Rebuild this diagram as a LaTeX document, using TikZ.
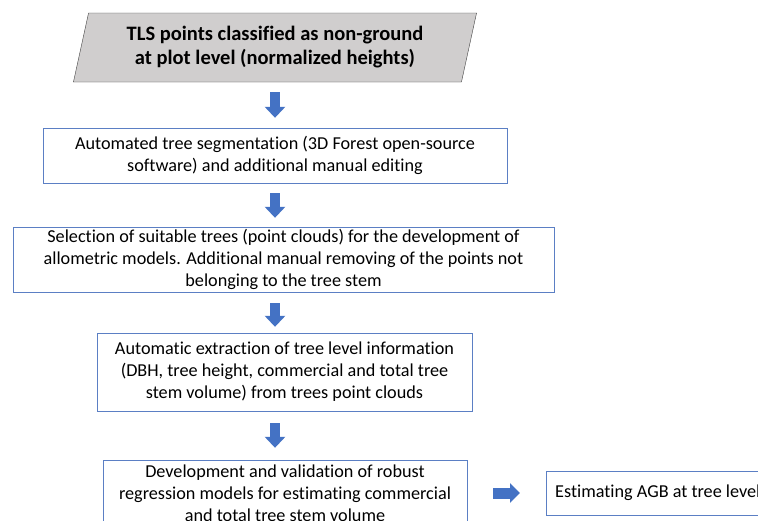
\documentclass[tikz,border=0pt]{standalone}
\usepackage{fontspec}
\setmainfont{Carlito}[Ligatures=NoCommon]
\usetikzlibrary{arrows.meta, shapes.geometric}
\definecolor{boxblue}{HTML}{5B7FC4}
\definecolor{arrowblue}{HTML}{4472C4}
\definecolor{titlegray}{HTML}{D0CECE}
\tikzstyle{titlebox} = [trapezium, trapezium left angle=74, trapezium right angle=106,
trapezium stretches=true,
minimum width=404, 
minimum height=69,
inner sep=0pt,
align=center, 
draw=black!75, 
fill=titlegray,
font=\fontsize{20.5}{24}\selectfont\bfseries]
\tikzstyle{box} = [rectangle, 
inner sep=0pt,
align=center, 
draw=boxblue,
font=\fontsize{18.2}{22}\selectfont]
\tikzstyle{blockarrow} = [-{Triangle[width=20pt, length=11pt]}, line width=10pt, arrowblue]

\begin{document}
\begin{tikzpicture}[x=1pt, y=-1pt]
				
				% Canvas (the last two boxes run past its edges)
				\useasboundingbox (0,0) rectangle (758,520);
				\clip (0,0) rectangle (758,520);
				\fill[white] (0,0) rectangle (758,520);
				
				\coordinate (axis) at (275,0);
				
				\node[titlebox] (points) at (275,47.5) {TLS points classified as non-ground \\ at plot level (normalized heights)};
				\node[box, minimum width=464, minimum height=55] (segment) at (275,155.5) {Automated tree segmentation (3D Forest open-source \\ software) and additional manual editing};
				\node[box, minimum width=541, minimum height=65] (select) at (283.5,259.5) {Selection of suitable trees (point clouds) for the development of \\ allometric models. Additional manual removing of the points not \\ belonging to the tree stem};
				\node[box, minimum width=375, minimum height=78] (extract) at (284.5,372) {Automatic extraction of tree level information \\ (DBH, tree height, commercial and total tree \\ stem volume) from trees point clouds};
				\node[box, minimum width=364, minimum height=66] (models) at (285,493) {Development and validation of robust \\ regression models for estimating commercial \\ and total tree stem volume};
				\node[box, anchor=west, minimum height=44, inner xsep=9pt] (agb) at (546,493) {Estimating AGB at tree level};
				
				% Edges
				\draw[blockarrow, shorten <=10pt, shorten >=10pt] (points.south -| axis) -- (segment.north -| axis);
				\draw[blockarrow, shorten <=10pt, shorten >=9pt] (segment.south -| axis) -- (select.north -| axis);
				\draw[blockarrow, shorten <=11pt, shorten >=6pt] (select.south -| axis) -- (extract.north -| axis);
				\draw[blockarrow, shorten <=12pt, shorten >=12pt] (extract.south -| axis) -- (models.north -| axis);
				\draw[blockarrow, line width=11pt, -{Triangle[width=19pt, length=10pt]}, shorten <=26pt, shorten >=26pt] (models) -- (agb);
				
			\end{tikzpicture}
\end{document}
